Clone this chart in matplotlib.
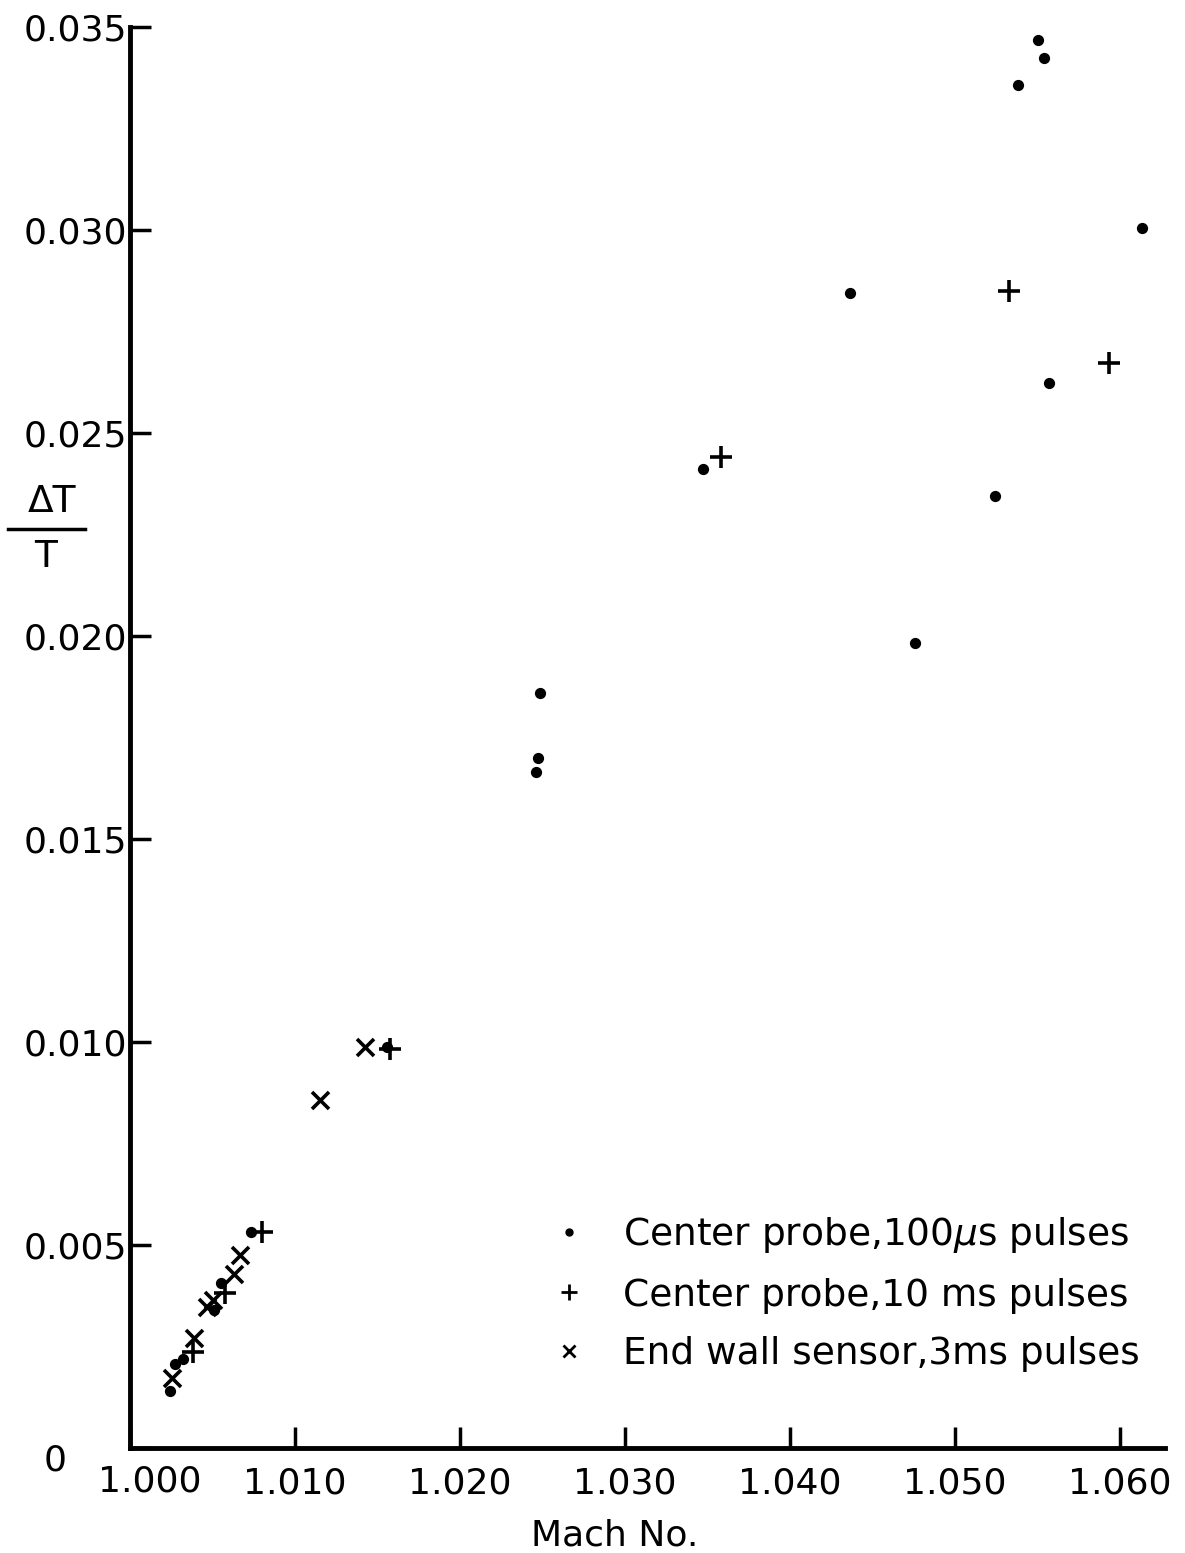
import matplotlib
matplotlib.use('Agg')
import matplotlib.pyplot as plt
from matplotlib.lines import Line2D

# Center probe, 100 us pulses (dots)
dotMach = [1.00733, 1.00552, 1.00509, 1.00321, 1.00273, 1.00242, 1.01558,
           1.02485, 1.02473, 1.02461, 1.03473, 1.04364, 1.05503, 1.05539,
           1.05382, 1.06133, 1.05570, 1.05242, 1.04758]
dotDT = [0.00532, 0.00406, 0.00340, 0.00219, 0.00207, 0.00140, 0.00988,
         0.01860, 0.01700, 0.01665, 0.02411, 0.02845, 0.03468, 0.03424,
         0.03357, 0.03005, 0.02623, 0.02345, 0.01983]

# Center probe, 10 ms pulses (plus)
plusMach = [1.00800, 1.00576, 1.00382, 1.01576, 1.03582, 1.05327, 1.05933]
plusDT = [0.00532, 0.00382, 0.00236, 0.00983, 0.02441, 0.02850, 0.02672]

# End wall sensor, 3 ms pulses (x)
crossMach = [1.00667, 1.00630, 1.00503, 1.00467, 1.00388, 1.00255, 1.01424, 1.01152]
crossDT = [0.00475, 0.00429, 0.00365, 0.00347, 0.00271, 0.00172, 0.00988, 0.00857]

xTicks = [1.000, 1.010, 1.020, 1.030, 1.040, 1.050, 1.060]
xTickLabels = ['1.000', '1.010', '1.020', '1.030', '1.040', '1.050', '1.060']
yTicks = [0.005, 0.010, 0.015, 0.020, 0.025, 0.030, 0.035]
yTickLabels = ['0.005', '0.010', '0.015', '0.020', '0.025', '0.030', '0.035']

legendLabels = ['Center probe,100$\\mu$s pulses',
                'Center probe,10 ms pulses',
                'End wall sensor,3ms pulses']

plt.rcParams['font.family'] = ['DejaVu Sans']
plt.rcParams['mathtext.fontset'] = 'dejavusans'

W, H = 1185, 1553
fig = plt.figure(figsize=(W / 100, H / 100), dpi=100)
ax = fig.add_axes([130 / W, (H - 1448) / H, 1035 / W, 1421 / H])

ax.scatter(dotMach, dotDT, s=50, c='k', marker='o', zorder=3)
ax.scatter(plusMach, plusDT, s=260, c='k', marker='+', linewidths=2.6, zorder=3)
ax.scatter(crossMach, crossDT, s=150, c='k', marker='x', linewidths=2.6, zorder=3)

ax.set_xlim(1.000, 1.000 + 1035 / 16500)
ax.set_ylim(0, 0.035)

for side in ['top', 'right']:
    ax.spines[side].set_visible(False)
for side in ['left', 'bottom']:
    ax.spines[side].set_linewidth(3.5)

ax.set_xticks(xTicks)
ax.set_xticklabels([''] + xTickLabels[1:])
ax.set_yticks([0] + yTicks)
ax.set_yticklabels([''] + yTickLabels)
ax.tick_params(axis='both', direction='in', length=15, width=2.5, labelsize=26)
ax.tick_params(axis='x', pad=13)
ax.tick_params(axis='y', pad=2)

# special corner labels
ax.text(1.0012, -0.00082, '1.000', fontsize=26, ha='center', va='center')
ax.text(-0.072, -0.0003, '0', fontsize=26, ha='center', va='center',
        transform=ax.get_yaxis_transform())

fig.text(615 / W, 1 - 1535 / H, 'Mach No.', fontsize=26, ha='center', va='center')

# Delta T / T label
fig.text(52 / W, 1 - 502 / H, '\u0394T', fontsize=27, ha='center', va='center')
fig.text(46 / W, 1 - 557 / H, 'T', fontsize=27, ha='center', va='center')
fig.add_artist(Line2D([8 / W, 85 / W], [1 - 529 / H, 1 - 529 / H],
                      color='k', linewidth=2.5, transform=fig.transFigure))

handles = [Line2D([], [], color='k', marker='o', linestyle='none', markersize=5),
           Line2D([], [], color='k', marker='+', linestyle='none', markersize=12,
                  markeredgewidth=2),
           Line2D([], [], color='k', marker='x', linestyle='none', markersize=9,
                  markeredgewidth=2)]
ax.legend(handles, legendLabels, frameon=False, fontsize=27,
          loc='lower left', bbox_to_anchor=(420 / 1035, 76 / 1421),
          handlelength=1.0, handletextpad=0.95, labelspacing=0.6,
          borderpad=0, borderaxespad=0)

fig.savefig('out.png', dpi=100, facecolor='white')
